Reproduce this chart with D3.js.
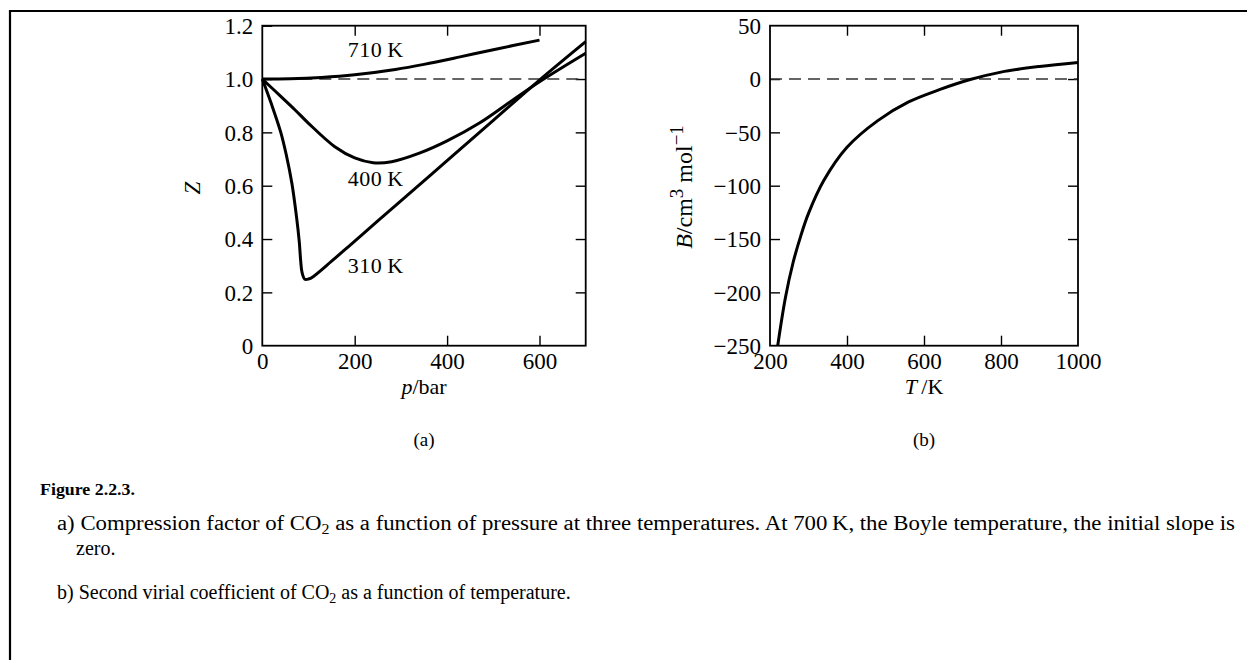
<!DOCTYPE html>
<html>
<head>
<meta charset="utf-8">
<script src="https://cdn.jsdelivr.net/npm/d3@7"></script>
<style>
  body { margin: 0; background: #fff; }
  svg text { font-family: "Liberation Serif", "Times New Roman", serif; fill: #000; }
</style>
</head>
<body>
<script>
// panel (a): compression factor Z vs pressure
const pressure310 = [0, 20, 40, 52, 64, 74, 80, 83, 86, 92, 100, 110, 150, 186, 250, 300, 400, 500, 600, 700];
const z310 = [1.0, 0.905, 0.8, 0.715, 0.609, 0.484, 0.39, 0.32, 0.275, 0.249, 0.25, 0.259, 0.317, 0.371, 0.468, 0.543, 0.694, 0.845, 0.996, 1.14];
const pressure400 = [0, 40, 71, 100, 157, 200, 240, 280, 340, 400, 470, 537, 600, 700];
const z400 = [1.0, 0.935, 0.884, 0.834, 0.746, 0.704, 0.686, 0.69, 0.722, 0.768, 0.835, 0.915, 0.99, 1.097];
const pressure710 = [0, 60, 128, 200, 288, 350, 428, 500, 600];
const z710 = [1.0, 1.001, 1.006, 1.016, 1.036, 1.055, 1.083, 1.11, 1.146];
const curveLabels = ["710\u2009K", "400\u2009K", "310\u2009K"];
const pTicks = [0, 200, 400, 600];
const zTicks = [0, 0.2, 0.4, 0.6, 0.8, 1.0, 1.2];

// panel (b): second virial coefficient vs temperature
const temperature = [220, 240, 260, 280, 300, 340, 400, 480, 560, 640, 720, 800, 900, 1000];
const virialB = [-250, -205, -172, -147, -126, -95, -64, -39, -21.5, -10, -0.5, 6.5, 11.8, 15.6];
const tTicks = [200, 400, 600, 800, 1000];
const bTicks = [-250, -200, -150, -100, -50, 0, 50];

const W = 1247, H = 660;
const svg = d3.select('body').append('svg').attr('width', W).attr('height', H);

// page border (left and top)
svg.append('path')
   .attr('d', `M10,${H} V11 H${W}`)
   .attr('fill', 'none').attr('stroke', '#000').attr('stroke-width', 2.2);

function panel(opts){
  const x = d3.scaleLinear().domain(opts.xDomain).range(opts.xRange);
  const y = d3.scaleLinear().domain(opts.yDomain).range([345.7, 25.7]);
  const g = svg.append('g');
  const inner = v => v > opts.xDomain[0] && v < opts.xDomain[1];
  const innerY = v => v > opts.yDomain[0] && v < opts.yDomain[1];

  // ticks + labels
  const bottom = g.append('g').attr('transform', `translate(0,${y.range()[0]})`)
    .call(d3.axisBottom(x).tickValues(opts.xTicks).tickSize(-10).tickPadding(9).tickFormat(opts.xFormat));
  const left = g.append('g').attr('transform', `translate(${x.range()[0]},0)`)
    .call(d3.axisLeft(y).tickValues(opts.yTicks).tickSize(-10).tickPadding(9).tickFormat(opts.yFormat));
  g.append('g').attr('transform', `translate(0,${y.range()[1]})`)
    .call(d3.axisTop(x).tickValues(opts.xTicks.filter(inner)).tickSize(-10).tickFormat(''));
  g.append('g').attr('transform', `translate(${x.range()[1]},0)`)
    .call(d3.axisRight(y).tickValues(opts.yTicks.filter(innerY)).tickSize(-10).tickFormat(''));
  g.selectAll('.domain').remove();
  g.selectAll('.tick line').attr('stroke', '#000').attr('stroke-width', 1.4);
  g.selectAll('.tick').filter(d => !inner(d) && !innerY(d)).select('line').remove();
  bottom.selectAll('text').attr('font-size', 23).attr('font-family', null).attr('dy', '0.62em');
  left.selectAll('text').attr('font-size', 23).attr('font-family', null).attr('dy', '0.34em');

  // dashed reference line
  g.append('line')
   .attr('x1', x.range()[0]).attr('x2', x.range()[1])
   .attr('y1', y(opts.refY)).attr('y2', y(opts.refY))
   .attr('stroke', '#333').attr('stroke-width', 1.5).attr('stroke-dasharray', '12,7');

  // frame
  g.append('rect')
   .attr('x', x.range()[0]).attr('y', y.range()[1])
   .attr('width', x.range()[1] - x.range()[0]).attr('height', y.range()[0] - y.range()[1])
   .attr('fill', 'none').attr('stroke', '#000').attr('stroke-width', 1.8);

  const line = d3.line().x(d => x(d[0])).y(d => y(d[1])).curve(d3.curveCatmullRom.alpha(0.5));
  opts.series.forEach(s => {
    g.append('path')
     .datum(d3.zip(s.xs, s.ys))
     .attr('d', line)
     .attr('fill', 'none').attr('stroke', '#000').attr('stroke-width', 3)
     .attr('stroke-linejoin', 'round');
  });
  return {x, y, g};
}

const a = panel({
  xDomain: [0, 700], xRange: [262.3, 585.7],
  yDomain: [0, 1.2],
  xTicks: pTicks, yTicks: zTicks,
  xFormat: d3.format('d'),
  yFormat: d => d === 0 ? '0' : d3.format('.1f')(d),
  refY: 1.0,
  series: [
    {xs: pressure710, ys: z710},
    {xs: pressure400, ys: z400},
    {xs: pressure310, ys: z310}
  ]
});

const b = panel({
  xDomain: [200, 1000], xRange: [770, 1078],
  yDomain: [-250, 50],
  xTicks: tTicks, yTicks: bTicks,
  xFormat: d3.format('d'),
  yFormat: d3.format('d'),
  refY: 0,
  series: [{xs: temperature, ys: virialB}]
});

// curve labels
const labelPos = [[185, 1.2 - 0.09], [185, 0.627], [185, 0.3]];
a.g.selectAll('text.clabel').data(curveLabels).join('text')
  .attr('class', 'clabel')
  .attr('x', (d, i) => a.x(labelPos[i][0]))
  .attr('y', (d, i) => a.y(labelPos[i][1]))
  .attr('dy', '0.35em')
  .attr('font-size', 22)
  .attr('letter-spacing', 0.5)
  .text(d => d);

// axis titles
const zt = svg.append('text').attr('transform', 'translate(200,188) rotate(-90)')
  .attr('text-anchor', 'middle').attr('font-size', 23);
zt.append('tspan').attr('font-style', 'italic').text('Z');

const pt = svg.append('text').attr('x', 424).attr('y', 394).attr('text-anchor', 'middle').attr('font-size', 22);
pt.append('tspan').attr('font-style', 'italic').text('p');
pt.append('tspan').text('/bar');

const tt = svg.append('text').attr('x', 924).attr('y', 394).attr('text-anchor', 'middle').attr('font-size', 22);
tt.append('tspan').attr('font-style', 'italic').text('T');
tt.append('tspan').text('\u2009/K');

const bt = svg.append('text').attr('transform', 'translate(692,187) rotate(-90)')
  .attr('text-anchor', 'middle').attr('font-size', 24);
bt.append('tspan').attr('font-style', 'italic').text('B');
bt.append('tspan').text('/cm');
bt.append('tspan').attr('baseline-shift', '45%').attr('font-size', 19).text('3');
bt.append('tspan').text(' mol');
bt.append('tspan').attr('baseline-shift', '45%').attr('font-size', 19).text('\u22121');

svg.append('text').attr('x', 424).attr('y', 446).attr('text-anchor', 'middle').attr('font-size', 19).text('(a)');
svg.append('text').attr('x', 924).attr('y', 446).attr('text-anchor', 'middle').attr('font-size', 19).text('(b)');

// caption
svg.append('text').attr('x', 40).attr('y', 495).attr('font-size', 17).attr('font-weight', 'bold')
  .attr('textLength', 95).attr('lengthAdjust', 'spacingAndGlyphs').text('Figure 2.2.3.');

function captionLine(x, y, parts, len){
  const t = svg.append('text').attr('x', x).attr('y', y).attr('font-size', 20);
  parts.forEach(p => {
    const s = t.append('tspan').text(p.t);
    if (p.sub) s.attr('baseline-shift', '-4').attr('font-size', 14);
  });
  if (len) t.attr('textLength', len).attr('lengthAdjust', 'spacingAndGlyphs');
  return t;
}
captionLine(57, 530, [
  {t: 'a) Compression factor of CO'}, {t: '2', sub: true},
  {t: ' as a function of pressure at three temperatures.  At 700\u2009K, the Boyle temperature, the initial slope is'}
], 1178);
captionLine(76, 555, [{t: 'zero.'}]);
captionLine(57, 599, [
  {t: 'b) Second virial coefficient of CO'}, {t: '2', sub: true},
  {t: ' as a function of temperature.'}
]);
</script>
</body>
</html>
